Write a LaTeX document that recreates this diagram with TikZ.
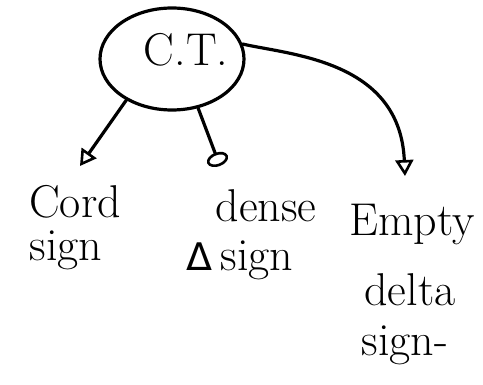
\documentclass[tikz,border=0pt]{standalone}
\usepackage{fontspec}
\newfontfamily\djsans{DejaVu Sans}
\usetikzlibrary{arrows.meta,shapes.geometric}
\begin{document}
\begin{tikzpicture}[x=1pt,y=-1pt,
  ink/.style={line width=3.2pt,black,line cap=round},
  hand/.style={font=\fontsize{46}{50}\selectfont,inner sep=0pt,align=center},
  tri/.style={-{Triangle[open,length=16pt,width=18pt,line width=2.6pt]}},
  blob/.style={-{Ellipse[open,length=14pt,width=22pt,line width=2.6pt]}}]
\useasboundingbox (0,0) rectangle (483,385);
\node[ink,draw,ellipse,minimum width=144pt,minimum height=102pt,inner sep=0pt] (ct) at (172,59) {};
\node[hand] (ctl) at (186,50) {C.T.};
\node[hand] (cord) at (75,202) {Cord};
\node[hand] (sign1) at (66,250) {sign};
\node[hand] (dense) at (266,206) {dense};
\node[hand] (dsign) at (240,260) {{\djsans\fontsize{38}{40}\selectfont Δ}\,sign};
\node[hand] (empty) at (412,225) {Empty};
\node[hand] (delta) at (410,290) {delta};
\node[hand] (sign3) at (405,345) {sign-};
\coordinate (a1) at (80,166);
\coordinate (a2) at (220,166);
\coordinate (a3) at (405,176);
\draw[ink,tri] (ct.222) -- (a1);
\draw[ink,blob] (ct.298) -- (a2);
\draw[ink,tri] (ct.12) .. controls (290,55) and (400,60) .. (a3);
\end{tikzpicture}
\end{document}
